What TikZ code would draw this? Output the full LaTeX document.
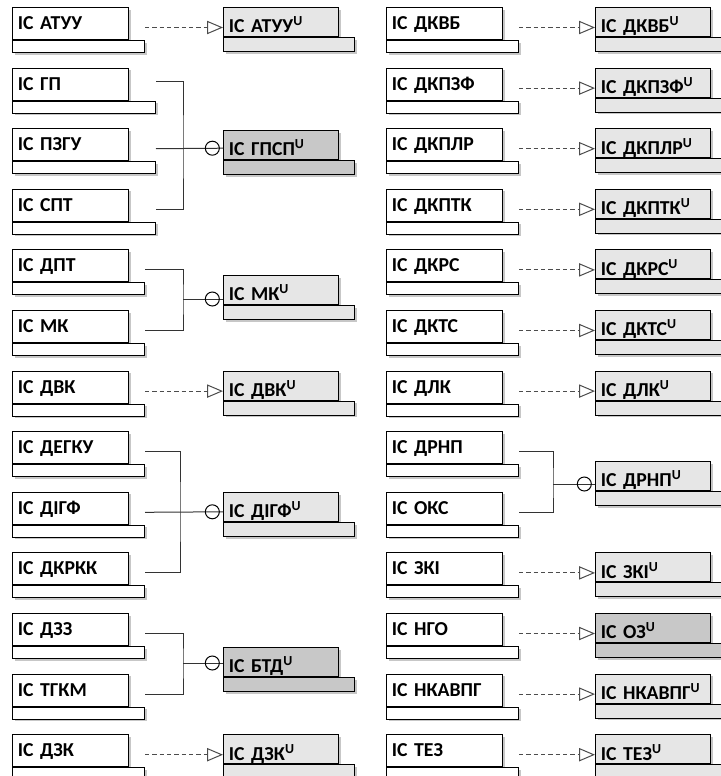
\documentclass[tikz,border=0pt]{standalone}
\usepackage{fontspec}
\setmainfont{Carlito}
\usetikzlibrary{arrows.meta,positioning,shadows}

\definecolor{pale}{HTML}{E6E6E6}
\definecolor{dim}{HTML}{C8C8C8}

\begin{document}
\begin{tikzpicture}[
    x=0.75pt, y=-0.75pt,
    font=\bfseries\fontsize{14.8}{16}\selectfont,
    shd/.style={drop shadow={shadow xshift=1.5pt, shadow yshift=-1.5pt, fill=black!22, opacity=1}},
    src/.style={rectangle, draw=black, line width=0.75pt, fill=white, shd, anchor=north west, inner xsep=4pt, inner ysep=0pt, text width=79pt, align=left, text height=16.5pt, text depth=7.5pt},
    srcbar/.style={rectangle, draw=black, line width=0.75pt, fill=white, shd, anchor=north west, inner sep=0pt, minimum width=99pt, minimum height=9pt},
    widebar/.style={srcbar, minimum width=107.25pt},
    tgt/.style={src, fill=pale, text width=78.25pt, text height=19pt, text depth=2.75pt},
    tgtbar/.style={srcbar, fill=pale, minimum width=98.25pt, minimum height=10.5pt},
    dark/.style={fill=dim},
    ball/.style={circle, draw=black, line width=0.75pt, minimum size=10.5pt, inner sep=0pt},
    link/.style={draw=black!80, line width=0.75pt},
    realize/.style={draw=black!70, line width=0.75pt, dash pattern=on 3.2pt off 2.3pt, -{Triangle[length=12pt, width=10pt, fill=white, line width=0.75pt]}}
]
\useasboundingbox (0,0) rectangle (721,776);
\clip (0,0) rectangle (721,776);

% left column, sources
\node[src] (atuu) at (12,7) {ІС АТУУ}; \node[srcbar] (atuu-b) at (atuu.south west) {};
\node[src] (gp) at (12,67.6) {ІС ГП}; \node[widebar] (gp-b) at (gp.south west) {};
\node[src] (pzgu) at (12,128.2) {ІС ПЗГУ}; \node[widebar] (pzgu-b) at (pzgu.south west) {};
\node[src] (spt) at (12,188.8) {ІС СПТ}; \node[widebar] (spt-b) at (spt.south west) {};
\node[src] (dpt) at (12,249.4) {ІС ДПТ}; \node[srcbar] (dpt-b) at (dpt.south west) {};
\node[src] (mk) at (12,310) {ІС МК}; \node[srcbar] (mk-b) at (mk.south west) {};
\node[src] (dvk) at (12,370.6) {ІС ДВК}; \node[srcbar] (dvk-b) at (dvk.south west) {};
\node[src] (degku) at (12,431.2) {ІС ДЕГКУ}; \node[srcbar] (degku-b) at (degku.south west) {};
\node[src] (digf) at (12,491.8) {ІС ДІГФ}; \node[srcbar] (digf-b) at (digf.south west) {};
\node[src] (dkrkk) at (12,552.4) {ІС ДКРКК}; \node[srcbar] (dkrkk-b) at (dkrkk.south west) {};
\node[src] (dzz) at (12,613) {ІС ДЗЗ}; \node[srcbar] (dzz-b) at (dzz.south west) {};
\node[src] (tgkm) at (12,673.6) {ІС ТГКМ}; \node[srcbar] (tgkm-b) at (tgkm.south west) {};
\node[src] (dzk) at (12,734.2) {ІС ДЗК}; \node[srcbar] (dzk-b) at (dzk.south west) {};

% left column, targets
\node[tgt] (atuu-u) at (223,7) {ІС АТУУ\textsuperscript{U}}; \node[tgtbar] (atuu-ub) at (atuu-u.south west) {};
\node[tgt, dark] (gpsp-u) at (223,130) {ІС ГПСП\textsuperscript{U}}; \node[tgtbar, dark] (gpsp-ub) at (gpsp-u.south west) {};
\node[tgt] (mk-u) at (223,275) {ІС МК\textsuperscript{U}}; \node[tgtbar] (mk-ub) at (mk-u.south west) {};
\node[tgt] (dvk-u) at (223,370.6) {ІС ДВК\textsuperscript{U}}; \node[tgtbar] (dvk-ub) at (dvk-u.south west) {};
\node[tgt] (digf-u) at (223,492) {ІС ДІГФ\textsuperscript{U}}; \node[tgtbar] (digf-ub) at (digf-u.south west) {};
\node[tgt, dark] (btd-u) at (223,647) {ІС БТД\textsuperscript{U}}; \node[tgtbar, dark] (btd-ub) at (btd-u.south west) {};
\node[tgt] (dzk-u) at (223,734.2) {ІС ДЗК\textsuperscript{U}}; \node[tgtbar] (dzk-ub) at (dzk-u.south west) {};

% right column, sources
\node[src] (dkvb) at (386,7) {ІС ДКВБ}; \node[srcbar] (dkvb-b) at (dkvb.south west) {};
\node[src] (dkpzf) at (386,67.6) {ІС ДКПЗФ}; \node[srcbar] (dkpzf-b) at (dkpzf.south west) {};
\node[src] (dkplr) at (386,128.2) {ІС ДКПЛР}; \node[srcbar] (dkplr-b) at (dkplr.south west) {};
\node[src] (dkptk) at (386,188.8) {ІС ДКПТК}; \node[srcbar] (dkptk-b) at (dkptk.south west) {};
\node[src] (dkrs) at (386,249.4) {ІС ДКРС}; \node[srcbar] (dkrs-b) at (dkrs.south west) {};
\node[src] (dkts) at (386,310) {ІС ДКТС}; \node[srcbar] (dkts-b) at (dkts.south west) {};
\node[src] (dlk) at (386,370.6) {ІС ДЛК}; \node[srcbar] (dlk-b) at (dlk.south west) {};
\node[src] (drnp) at (386,431.2) {ІС ДРНП}; \node[srcbar] (drnp-b) at (drnp.south west) {};
\node[src] (oks) at (386,491.8) {ІС ОКС}; \node[srcbar] (oks-b) at (oks.south west) {};
\node[src] (zki) at (386,552.4) {ІС ЗКІ}; \node[srcbar] (zki-b) at (zki.south west) {};
\node[src] (ngo) at (386,613) {ІС НГО}; \node[srcbar] (ngo-b) at (ngo.south west) {};
\node[src] (nkavpg) at (386,673.6) {ІС НКАВПГ}; \node[srcbar] (nkavpg-b) at (nkavpg.south west) {};
\node[src] (tez) at (386,734.2) {ІС ТЕЗ}; \node[srcbar] (tez-b) at (tez.south west) {};

% right column, targets
\node[tgt] (dkvb-u) at (595,7) {ІС ДКВБ\textsuperscript{U}}; \node[tgtbar] (dkvb-ub) at (dkvb-u.south west) {};
\node[tgt] (dkpzf-u) at (595,67.6) {ІС ДКПЗФ\textsuperscript{U}}; \node[tgtbar] (dkpzf-ub) at (dkpzf-u.south west) {};
\node[tgt] (dkplr-u) at (595,128.2) {ІС ДКПЛР\textsuperscript{U}}; \node[tgtbar] (dkplr-ub) at (dkplr-u.south west) {};
\node[tgt] (dkptk-u) at (595,188.8) {ІС ДКПТК\textsuperscript{U}}; \node[tgtbar] (dkptk-ub) at (dkptk-u.south west) {};
\node[tgt] (dkrs-u) at (595,249.4) {ІС ДКРС\textsuperscript{U}}; \node[tgtbar] (dkrs-ub) at (dkrs-u.south west) {};
\node[tgt] (dkts-u) at (595,310) {ІС ДКТС\textsuperscript{U}}; \node[tgtbar] (dkts-ub) at (dkts-u.south west) {};
\node[tgt] (dlk-u) at (595,370.6) {ІС ДЛК\textsuperscript{U}}; \node[tgtbar] (dlk-ub) at (dlk-u.south west) {};
\node[tgt] (drnp-u) at (595,461) {ІС ДРНП\textsuperscript{U}}; \node[tgtbar] (drnp-ub) at (drnp-u.south west) {};
\node[tgt] (zki-u) at (595,552.4) {ІС ЗКІ\textsuperscript{U}}; \node[tgtbar] (zki-ub) at (zki-u.south west) {};
\node[tgt, dark] (oz-u) at (595,613) {ІС ОЗ\textsuperscript{U}}; \node[tgtbar, dark] (oz-ub) at (oz-u.south west) {};
\node[tgt] (nkavpg-u) at (595,673.6) {ІС НКАВПГ\textsuperscript{U}}; \node[tgtbar] (nkavpg-ub) at (nkavpg-u.south west) {};
\node[tgt] (tez-u) at (595,734.2) {ІС ТЕЗ\textsuperscript{U}}; \node[tgtbar] (tez-ub) at (tez-u.south west) {};

% junctions of the merges
\coordinate (gpsp-j) at (183,148.2);
\coordinate (mk-j) at (183,299);
\coordinate (digf-j) at (180,511.8);
\coordinate (btd-j) at (183,663);
\coordinate (drnp-j) at (553,484);

% one-to-one links
\draw[realize] ([yshift=-3pt]atuu.east -| atuu-b.east) -- ([yshift=-3pt]atuu.east -| atuu-u.west);
\draw[realize] ([yshift=-3pt]dvk.east -| dvk-b.east) -- ([yshift=-3pt]dvk.east -| dvk-u.west);
\draw[realize] ([yshift=-3pt]dzk.east -| dzk-b.east) -- ([yshift=-3pt]dzk.east -| dzk-u.west);
\draw[realize] ([yshift=-3pt]dkvb.east -| dkvb-b.east) -- ([yshift=-3pt]dkvb.east -| dkvb-u.west);
\draw[realize] ([yshift=-3pt]dkpzf.east -| dkpzf-b.east) -- ([yshift=-3pt]dkpzf.east -| dkpzf-u.west);
\draw[realize] ([yshift=-3pt]dkplr.east -| dkplr-b.east) -- ([yshift=-3pt]dkplr.east -| dkplr-u.west);
\draw[realize] ([yshift=-3pt]dkptk.east -| dkptk-b.east) -- ([yshift=-3pt]dkptk.east -| dkptk-u.west);
\draw[realize] ([yshift=-3pt]dkrs.east -| dkrs-b.east) -- ([yshift=-3pt]dkrs.east -| dkrs-u.west);
\draw[realize] ([yshift=-3pt]dkts.east -| dkts-b.east) -- ([yshift=-3pt]dkts.east -| dkts-u.west);
\draw[realize] ([yshift=-3pt]dlk.east -| dlk-b.east) -- ([yshift=-3pt]dlk.east -| dlk-u.west);
\draw[realize] ([yshift=-3pt]zki.east -| zki-b.east) -- ([yshift=-3pt]zki.east -| zki-u.west);
\draw[realize] ([yshift=-3pt]ngo.east -| ngo-b.east) -- ([yshift=-3pt]ngo.east -| oz-u.west);
\draw[realize] ([yshift=-3pt]nkavpg.east -| nkavpg-b.east) -- ([yshift=-3pt]nkavpg.east -| nkavpg-u.west);
\draw[realize] ([yshift=-3pt]tez.east -| tez-b.east) -- ([yshift=-3pt]tez.east -| tez-u.west);

% merges
\draw[link] ([yshift=2pt]gp.east -| gp-b.east) -| (gpsp-j) |- ([yshift=-3pt]spt.east -| spt-b.east);
\draw[link] ([yshift=-3pt]pzgu.east -| pzgu-b.east) -- (gpsp-j -| gpsp-u.west);
\node[ball] (gpsp-c) at ([xshift=-8pt]gpsp-j -| gpsp-u.west) {};

\draw[link] ([yshift=-3pt]dpt.east -| dpt-b.east) -| (mk-j) |- ([yshift=-3pt]mk.east -| mk-b.east);
\draw[link] (mk-j) -- (mk-j -| mk-u.west);
\node[ball] (mk-c) at ([xshift=-8pt]mk-j -| mk-u.west) {};

\draw[link] ([yshift=-3pt]degku.east -| degku-b.east) -| (digf-j) |- ([yshift=-3pt]dkrkk.east -| dkrkk-b.east);
\draw[link] ([yshift=-3pt]digf.east -| digf-b.east) -- (digf-j -| digf-u.west);
\node[ball] (digf-c) at ([xshift=-8pt]digf-j -| digf-u.west) {};

\draw[link] ([yshift=-3pt]dzz.east -| dzz-b.east) -| (btd-j) |- ([yshift=-3pt]tgkm.east -| tgkm-b.east);
\draw[link] (btd-j) -- (btd-j -| btd-u.west);
\node[ball] (btd-c) at ([xshift=-8pt]btd-j -| btd-u.west) {};

\draw[link] ([yshift=-3pt]drnp.east -| drnp-b.east) -| (drnp-j) |- ([yshift=-3pt]oks.east -| oks-b.east);
\draw[link] (drnp-j) -- (drnp-j -| drnp-u.west);
\node[ball] (drnp-c) at ([xshift=-8pt]drnp-j -| drnp-u.west) {};
\end{tikzpicture}
\end{document}
